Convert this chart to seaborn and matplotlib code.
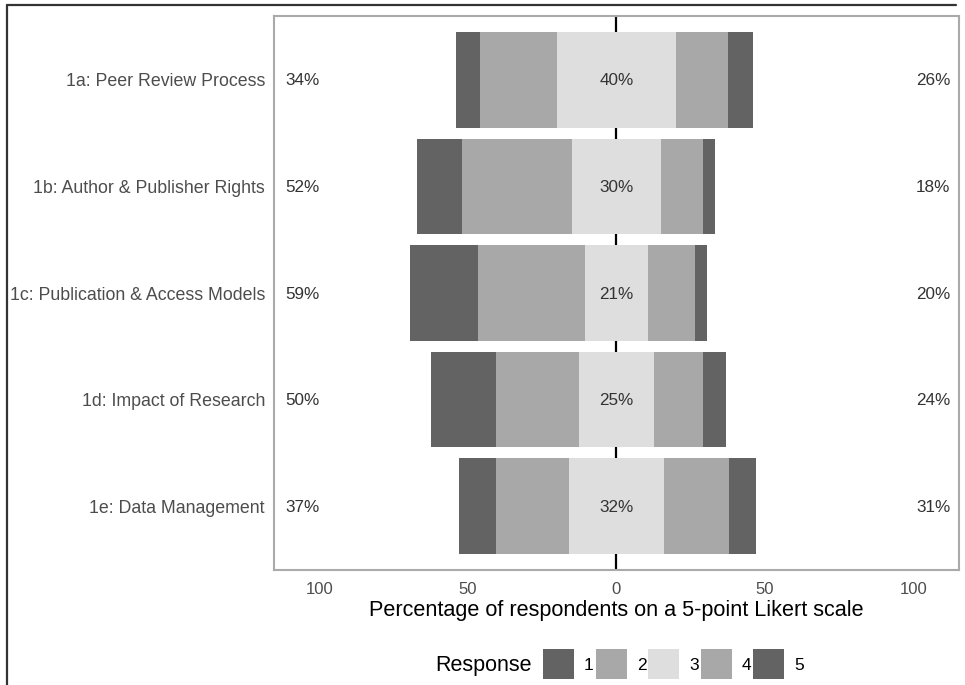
import numpy as np
import pandas as pd
import matplotlib
matplotlib.use("Agg")
import matplotlib.pyplot as plt
import seaborn as sns
from matplotlib.patches import Rectangle
from matplotlib.lines import Line2D

# ---------------- data ----------------
items = ["1a: Peer Review Process", "1b: Author & Publisher Rights",
         "1c: Publication & Access Models", "1d: Impact of Research",
         "1e: Data Management"]
resp1 = [8.0, 15.0, 23.0, 22.0, 12.5]
resp2 = [26.0, 37.0, 36.0, 28.0, 24.5]
resp3 = [40.0, 30.0, 21.0, 25.0, 32.0]
resp4 = [17.5, 14.0, 16.0, 16.5, 22.0]
resp5 = [8.5, 4.0, 4.0, 8.0, 9.0]
low_pct = [34, 52, 59, 50, 37]
neutral_pct = [40, 30, 21, 25, 32]
high_pct = [26, 18, 20, 24, 31]
xticks = [-100, -50, 0, 50, 100]
xtick_labels = ["100", "50", "0", "50", "100"]
legend_labels = ["1", "2", "3", "4", "5"]

# ---------------- style ----------------
sns.set_theme(style="white")
plt.rcParams['font.family'] = ['Liberation Sans', 'DejaVu Sans']

dark, mid, light = "#636363", "#A8A8A8", "#DEDEDE"
colors = [dark, mid, light, mid, dark]

W, H = 965, 685
fig = plt.figure(figsize=(W / 100, H / 100), dpi=100)
ax = fig.add_axes([274 / W, 1 - 570 / H, (959 - 274) / W, (570 - 16) / H])

r1, r2, r3, r4, r5 = map(np.array, (resp1, resp2, resp3, resp4, resp5))
df = pd.DataFrame({"item": items})

ax.axvline(0, color="black", lw=1.6, zorder=0)

layers = [
    (-(r3 / 2 + r2 + r1), dark), (r3 / 2 + r4 + r5, dark),
    (-(r3 / 2 + r2), mid), (r3 / 2 + r4, mid),
    (-(r3 / 2), light), (r3 / 2, light),
]
for vals, col in layers:
    d = df.assign(val=vals)
    sns.barplot(data=d, x="val", y="item", order=items, orient="h",
                color=col, saturation=1, width=0.9, linewidth=0,
                errorbar=None, ax=ax, zorder=2)

ax.set_xlim(-115.3, 115.3)
ax.set_ylim(4.6, -0.6)

for i in range(len(items)):
    ax.text(-111.6, i + 0.01, f"{low_pct[i]}%", ha="left", va="center",
            fontsize=12.3, color="#333333", zorder=3)
    ax.text(0, i + 0.01, f"{neutral_pct[i]}%", ha="center", va="center",
            fontsize=12.3, color="#333333", zorder=3)
    ax.text(112.4, i + 0.01, f"{high_pct[i]}%", ha="right", va="center",
            fontsize=12.3, color="#333333", zorder=3)

ax.set_xticks(xticks)
ax.set_xticklabels(xtick_labels)
ax.tick_params(axis="x", length=0, pad=8.5, labelsize=12, labelcolor="#4D4D4D")
ax.tick_params(axis="y", length=0, pad=6.5, labelsize=12.8, labelcolor="#4D4D4D")
ax.set_ylabel("")
ax.set_xlabel("Percentage of respondents on a 5-point Likert scale",
              fontsize=15.6, color="black", labelpad=2.5)
for s in ax.spines.values():
    s.set_visible(True)
    s.set_color("#AAAAAA")
    s.set_linewidth(1.5)

# ---------------- legend ----------------
fig.text(435 / W, 1 - 665 / H, "Response", ha="left", va="center",
         fontsize=15.5, color="black")
box_x = [543, 596, 648, 701, 753]
for bx, col, lab in zip(box_x, colors, legend_labels):
    fig.add_artist(Rectangle((bx / W, 1 - 679 / H), 31 / W, 30 / H,
                             transform=fig.transFigure, facecolor=col,
                             edgecolor="none"))
    fig.text((bx + 41) / W, 1 - 665 / H, lab, ha="left", va="center",
             fontsize=12.5, color="black")

# ---------------- outer frame (top & left) ----------------
fig.add_artist(Line2D([7 / W, 956 / W], [1 - 5 / H, 1 - 5 / H],
                      transform=fig.transFigure, color="#333333", lw=1.6))
fig.add_artist(Line2D([7 / W, 7 / W], [1 - 5 / H, 0],
                      transform=fig.transFigure, color="#333333", lw=1.6))

fig.savefig("out.png", dpi=100)
